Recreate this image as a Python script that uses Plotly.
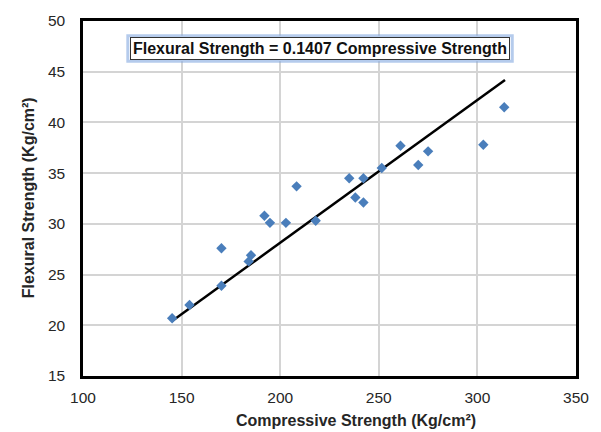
import plotly.graph_objects as go

# Data
compressive = [145.2, 154.0, 170.2, 170.2, 184.0, 185.2, 192.0, 194.8, 202.9, 208.3,
               218.0, 235.0, 238.1, 242.2, 242.2, 251.5, 261.0, 270.0, 275.0, 303.0, 313.6]
flexural = [20.7, 22.0, 23.9, 27.6, 26.3, 26.9, 30.8, 30.1, 30.1, 33.7,
            30.3, 34.5, 32.6, 34.5, 32.1, 35.5, 37.7, 35.8, 37.15, 37.8, 41.5]

slope = 0.1407
fit_x = [145.2, 314.0]
fit_y = [slope * v for v in fit_x]

x_ticks = [100, 150, 200, 250, 300, 350]
y_ticks = [15, 20, 25, 30, 35, 40, 45, 50]

equation_text = "Flexural Strength = 0.1407 Compressive Strength"
x_title = "Compressive Strength (Kg/cm²)"
y_title = "Flexural Strength (Kg/cm²)"

FONT = "Arial, Liberation Sans, sans-serif"
W, H = 601, 432
L, R, T, B = 83, 23, 15, 56
PW, PH = W - L - R, H - T - B


def px(xp):
    return (xp - L) / PW


def py(yp):
    return (H - B - yp) / PH


fig = go.Figure()
fig.add_trace(go.Scatter(
    x=fit_x, y=fit_y, mode="lines",
    line=dict(color="black", width=2.5),
    showlegend=False, hoverinfo="skip",
))
fig.add_trace(go.Scatter(
    x=compressive, y=flexural, mode="markers",
    marker=dict(symbol="diamond", size=8, color="#4a7ebb"),
    showlegend=False,
))

fig.update_layout(
    width=W, height=H,
    margin=dict(l=L, r=R, t=T, b=B),
    paper_bgcolor="white", plot_bgcolor="white",
    font=dict(family=FONT, size=15.5, color="#262626"),
    xaxis=dict(
        range=[100, 350], tickvals=x_ticks,
        showgrid=True, gridcolor="#d4d4d4", gridwidth=1.5,
        showline=True, linecolor="black", linewidth=2.5, mirror=True,
        zeroline=False, ticks="", ticklabelstandoff=6,
    ),
    yaxis=dict(
        range=[15, 50], tickvals=y_ticks,
        showgrid=True, gridcolor="#d4d4d4", gridwidth=1.5,
        showline=True, linecolor="black", linewidth=2.5, mirror=True,
        zeroline=False, ticks="", ticklabelstandoff=12,
    ),
)

# Axis titles
fig.add_annotation(xref="paper", yref="paper", x=px(357), y=py(421),
                   text="<b>" + x_title + "</b>", showarrow=False,
                   font=dict(family=FONT, size=16, color="#262626"),
                   xanchor="center", yanchor="middle")
fig.add_annotation(xref="paper", yref="paper", x=px(28), y=py(195),
                   text="<b>" + y_title + "</b>", showarrow=False, textangle=-90,
                   font=dict(family=FONT, size=16, color="#262626"),
                   xanchor="center", yanchor="middle")

# Equation box with faint blue glow
fig.add_shape(type="rect", xref="paper", yref="paper",
              x0=px(128), x1=px(514), y0=py(56), y1=py(30),
              line=dict(color="rgba(120,160,220,0.55)", width=3), fillcolor="white", layer="above")
fig.add_annotation(
    xref="paper", yref="paper",
    x=px(321), y=py(43),
    text="<b>" + equation_text + "</b>", showarrow=False,
    font=dict(family=FONT, size=16, color="#111111"),
    bgcolor="white", bordercolor="#333333", borderwidth=1, borderpad=2,
    xanchor="center", yanchor="middle",
)

fig.write_html("out.html")
